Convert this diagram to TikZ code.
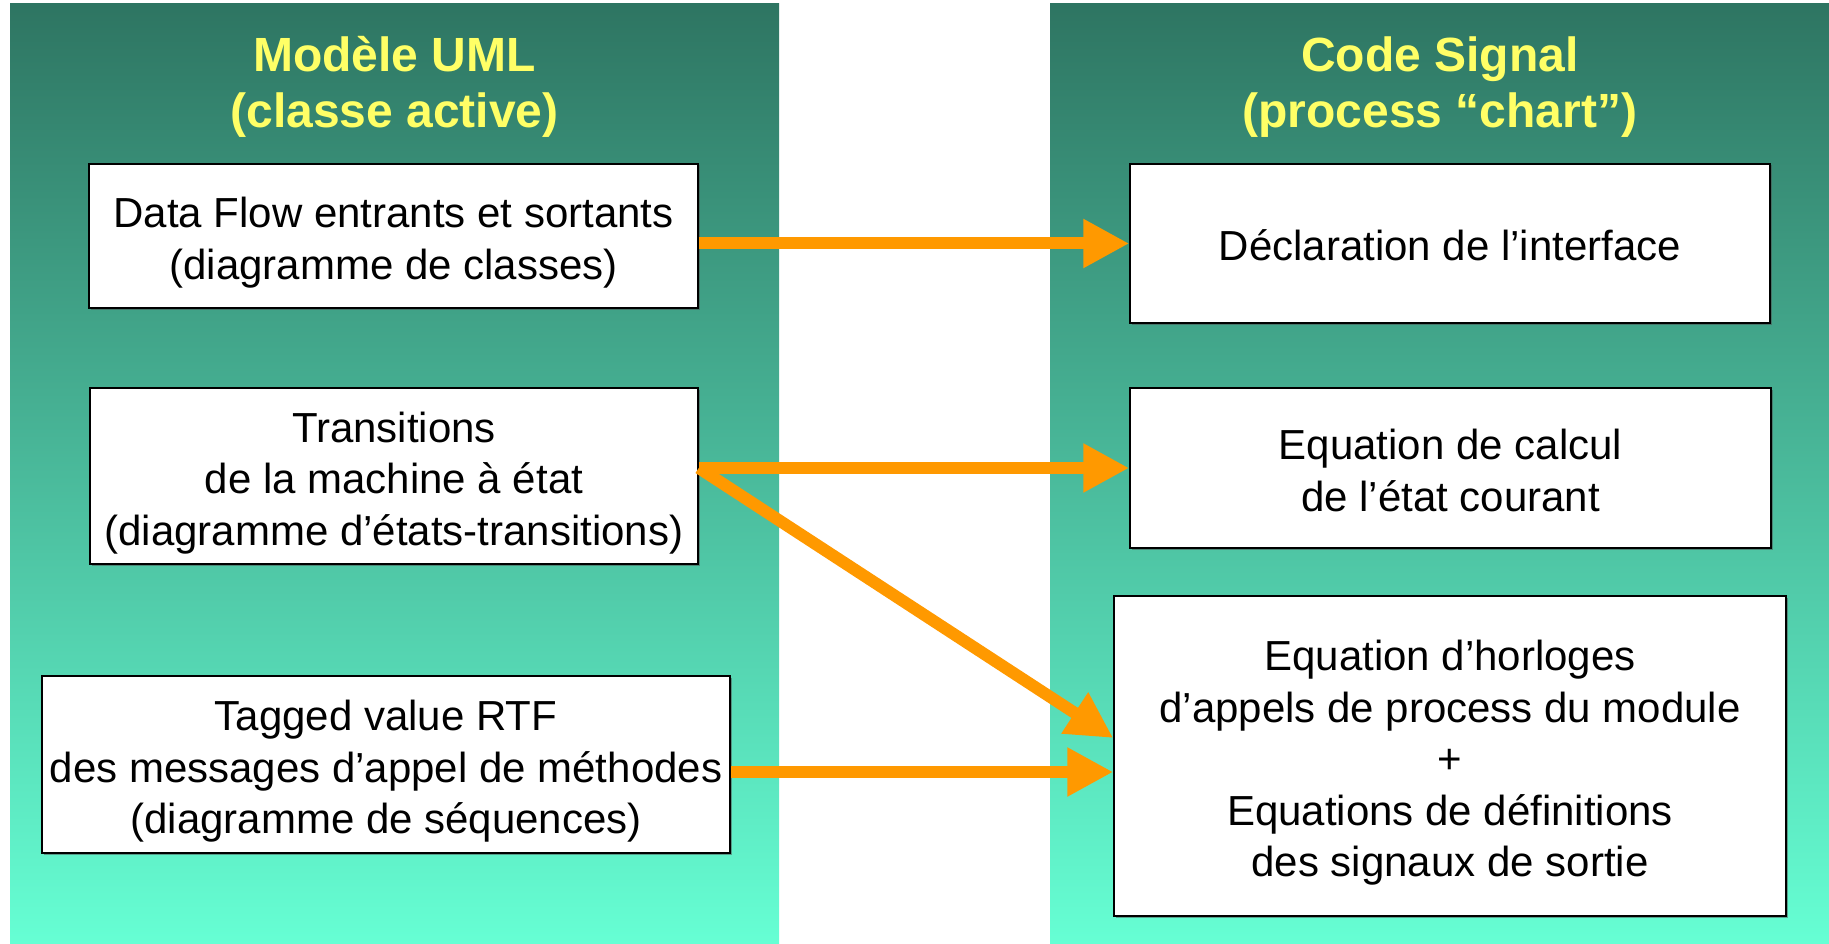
\documentclass[tikz,border=0pt]{standalone}
\usepackage{fontspec}
\setmainfont{Liberation Sans}
\usetikzlibrary{arrows.meta,shadows}
\definecolor{gtop}{RGB}{46,117,98}
\definecolor{gbot}{RGB}{102,255,212}
\definecolor{ttl}{RGB}{255,255,102}
\definecolor{arr}{RGB}{255,153,0}
\newcommand\mytop{\rule{0pt}{45pt}}
\newcommand\mybot{\rule[-10pt]{0pt}{10pt}}
\tikzset{
  panel/.style={draw=none, top color=gtop, bottom color=gbot},
  title/.style={text=ttl, align=center, font=\fontsize{48}{56}\selectfont\bfseries, inner sep=0pt},
  box/.style={draw=black, line width=1.5pt, fill=white, align=center, inner sep=2pt,
    font=\fontsize{42}{51.5}\selectfont,
    drop shadow={shadow xshift=1.5pt, shadow yshift=-1.5pt, opacity=0.5, fill=black!70}},
  flow/.style={draw=arr, line width=12pt, line cap=butt, line join=miter,
    -{Triangle[length=46pt,width=46pt]}}
}
\begin{document}
\begin{tikzpicture}[x=1pt,y=-1pt]
\useasboundingbox (0,0) rectangle (1829,944);
\fill[white] (0,0) rectangle (1829,944);
% panels
\shade[panel] (10,4) rectangle (779,944);
\shade[panel] (1050,4) rectangle (1829,944);
% titles
\node[title] (tl) at (394.5,87) {Modèle UML\\(classe active)};
\node[title] (tr) at (1440,87) {Code Signal\\(process “chart”)};
% left boxes
\node[box, minimum width=609pt, minimum height=144pt] (lb1) at (393.5,236)
  {\mytop Data Flow entrants et sortants\\(diagramme de classes)\mybot};
\node[box, minimum width=608pt, minimum height=176pt] (lb2) at (394,476)
  {\mytop Transitions\\de la machine à état\\(diagramme d’états-transitions)\mybot};
\node[box, minimum width=688pt, minimum height=177pt] (lb3) at (386,764.5)
  {\mytop Tagged value RTF\\des messages d’appel de méthodes\\(diagramme de séquences)\mybot};
% right boxes
\node[box, minimum width=640pt, minimum height=159pt] (rb1) at (1450,243.5)
  {\mytop Déclaration de l’interface\mybot};
\node[box, minimum width=641pt, minimum height=160pt] (rb2) at (1450.5,468)
  {\mytop Equation de calcul\\de l’état courant\mybot};
\node[box, minimum width=672pt, minimum height=320pt] (rb3) at (1450,756)
  {\mytop Equation d’horloges\\d’appels de process du module\\+\\Equations de définitions\\des signaux de sortie\mybot};
% arrow endpoints
\coordinate (t3a) at ([yshift=18pt]rb3.west);
\coordinate (t3b) at ([yshift=-16pt]rb3.west);
% arrows
\draw[flow] (lb1.east |- rb1.west) -- (rb1.west);
\draw[flow] (lb2.east |- rb2.west) -- (rb2.west);
\draw[flow] (lb2.east |- rb2.west) -- (t3a);
\draw[flow] (lb3.east |- t3b) -- (t3b);
\end{tikzpicture}
\end{document}
